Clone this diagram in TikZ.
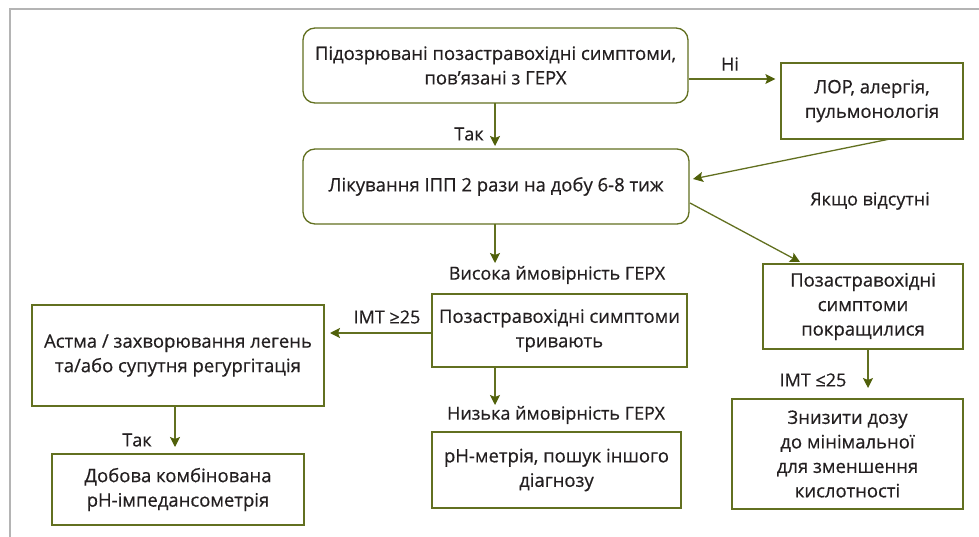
\documentclass[tikz,border=0pt]{standalone}
\usepackage{fontspec}
\setmainfont{Open Sans}[FakeBold=0.5]
\usetikzlibrary{arrows.meta}
\definecolor{olive}{RGB}{98,112,32}
\definecolor{oliveTip}{RGB}{80,96,10}
\definecolor{txt}{RGB}{35,31,32}
\definecolor{frame}{RGB}{180,180,180}
\tikzset{
  box/.style={draw=olive, line width=1.3pt, fill=white, align=center, text=txt, inner sep=2pt, font=\fontsize{18.5}{24.5}\selectfont},
  rbox/.style={box, rounded corners=12pt},
  arr/.style={draw=olive, line width=1.3pt, -{Stealth[length=10pt,width=10pt,inset=2pt,color=oliveTip]}},
  lbl/.style={text=txt, inner sep=1pt, font=\fontsize{18}{22}\selectfont}
}
\begin{document}
\begin{tikzpicture}[x=1pt,y=-1pt]
\useasboundingbox (0,0) rectangle (979,537);
\draw[frame, line width=2pt] (10,537) -- (10,9) -- (979,9);

\node[rbox, minimum width=385pt, minimum height=75pt] (b1) at (495.5,65.5) {Підозрювані позастравохідні симптоми,\\пов’язані з ГЕРХ};
\node[box, minimum width=182pt, minimum height=76pt] (lor) at (872,101) {ЛОР, алергія,\\пульмонологія};
\node[rbox, minimum width=386pt, minimum height=75pt] (b2) at (496,186.5) {Лікування ІПП 2 рази на добу 6-8 тиж};
\node[box, minimum width=200pt, minimum height=85pt] (impr) at (863,306.5) {Позастравохідні\\симптоми\\покращилися};
\node[box, minimum width=255pt, minimum height=73pt] (tryv) at (559.5,330.5) {Позастравохідні симптоми\\тривають};
\node[box, minimum width=292pt, minimum height=101pt] (asth) at (178,355.5) {Астма / захворювання легень\\та/або супутня регургітація};
\node[box, minimum width=252pt, minimum height=71pt] (dob) at (178,489.5) {Добова комбінована\\рН-імпедансометрія};
\node[box, minimum width=249pt, minimum height=76pt] (phm) at (556.5,470) {рН-метрія, пошук іншого\\діагнозу};
\node[box, minimum width=231pt, minimum height=110pt] (zn) at (847.5,454) {Знизити дозу\\до мінімальної\\для зменшення\\кислотності};

\coordinate (lorOut) at (890,139);
\coordinate (b2In) at (693,179);
\coordinate (b2Out) at (690,203);
\coordinate (imprIn) at (800,262);

\draw[arr, shorten >=5pt] (b1.east |- 0,79) -- (lor.west |- 0,79);
\node[lbl] (ni) at (730,64) {Ні};
\draw[arr] (495,103) -- (495,146);
\node[lbl] (tak1) at (469,134) {Так};
\draw[arr] (lorOut) -- (b2In);
\node[lbl] (yak) at (870,201) {Якщо відсутні};
\draw[arr] (b2Out) -- (imprIn);
\draw[arr] (495,224) -- (495,263);
\node[lbl] (vys) at (557,275) {Висока ймовірність ГЕРХ};
\draw[arr] (tryv.west |- 0,333) -- (330,333);
\node[lbl] (imt1) at (387,317) {ІМТ ≥25};
\draw[arr] (495,367) -- (495,405);
\node[lbl] (nyz) at (556,415) {Низька ймовірність ГЕРХ};
\draw[arr] (175,406) -- (175,447);
\node[lbl] (tak2) at (137,440) {Так};
\draw[arr] (868,349) -- (868,388);
\node[lbl] (imt2) at (813,380) {ІМТ ≤25};
\end{tikzpicture}
\end{document}
